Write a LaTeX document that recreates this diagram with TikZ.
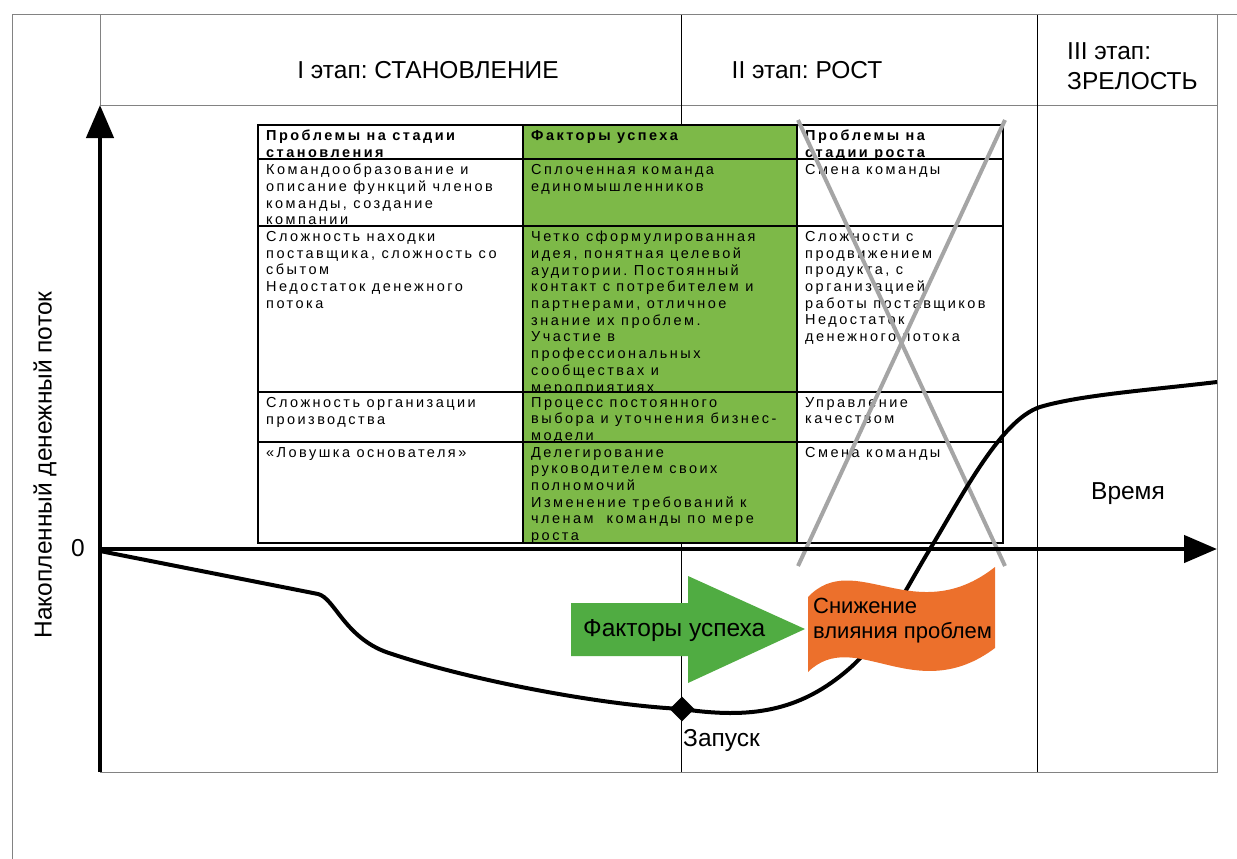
\documentclass[tikz,border=0pt]{standalone}
\usepackage{fontspec}
\setmainfont{Liberation Sans}
\newfontfamily\cellfont{Liberation Sans}[LetterSpace=17]
\usetikzlibrary{arrows.meta,shapes.geometric}
\definecolor{factorgreen}{RGB}{125,185,72}
\definecolor{arrowgreen}{RGB}{80,172,66}
\definecolor{flagorange}{RGB}{236,112,44}
\definecolor{crossgray}{RGB}{165,165,165}
\definecolor{framegray}{RGB}{130,130,130}
\frenchspacing

\begin{document}
\begin{tikzpicture}[
    x=1pt, y=-1pt,
    frame/.style={draw=framegray, line width=1pt},
    stage/.style={draw=black, line width=1pt},
    axis/.style={line width=4.5pt, -{Triangle[length=33pt,width=27pt]}},
    grid/.style={draw=black, line width=1.2pt},
    cell/.style={
        anchor=north west,
        inner sep=0pt,
        align=left,
        node font={\cellfont\fontsize{14.5pt}{16.7pt}\selectfont}},
    big/.style={
        inner sep=0pt,
        node font={\fontsize{24.5pt}{30pt}\selectfont}}]
    \useasboundingbox (0,0) rectangle (1237,859);

    \draw[frame] (1237,15) -- (12,15) -- (12,859);
    \draw[frame] (100,15) -- (100,105);
    \draw[frame] (100,105) -- (1217,105);
    \draw[frame] (1217,15) -- (1217,772) -- (100,772);
    \draw[stage] (681,15) -- (681,772);
    \draw[stage] (1037,15) -- (1037,772);

    \node[big, anchor=base] (stage1) at (428,78) {I этап: СТАНОВЛЕНИЕ};
    \node[big, anchor=base] (stage2) at (807,78) {II этап: РОСТ};
    \node[big, anchor=north west, align=left] (stage3) at (1067,42) {III этап:\\ЗРЕЛОСТЬ};

    \fill[white] (258,125) rectangle (1003,543);
    \fill[factorgreen] (523,125) rectangle (797,543);

    \node[cell, font=\bfseries] (c11) at (266,130) {Проблемы на стадии\\становления};
    \node[cell, font=\bfseries] (c12) at (531,130) {Факторы успеха};
    \node[cell, font=\bfseries] (c13) at (805,130) {Проблемы на\\стадии роста};

    \node[cell] (c21) at (266,164) {Командообразование и\\описание функций членов\\команды, создание\\компании};
    \node[cell] (c22) at (531,164) {Сплоченная команда\\единомышленников};
    \node[cell] (c23) at (805,164) {Смена команды};

    \node[cell] (c31) at (266,231) {Сложность находки\\поставщика, сложность со\\сбытом\\Недостаток денежного\\потока};
    \begin{scope}
        \clip (523,226) rectangle (797,392);
        \node[cell] (c32) at (531,231) {Четко сформулированная\\идея, понятная целевой\\аудитории. Постоянный\\контакт с потребителем и\\партнерами, отличное\\знание их проблем.\\Участие в\\профессиональных\\сообществах и\\мероприятиях};
    \end{scope}
    \node[cell] (c33) at (805,231) {Сложности с\\продвижением\\продукта, с\\организацией\\работы поставщиков\\Недостаток\\денежного потока};

    \node[cell] (c41) at (266,397) {Сложность организации\\производства};
    \begin{scope}
        \clip (523,392) rectangle (797,442);
        \node[cell] (c42) at (531,397) {Процесс постоянного\\выбора и уточнения бизнес-\\модели};
    \end{scope}
    \node[cell] (c43) at (805,397) {Управление\\качеством};

    \node[cell] (c51) at (266,447) {«Ловушка основателя»};
    \begin{scope}
        \clip (523,442) rectangle (797,543);
        \node[cell] (c52) at (531,447) {Делегирование\\руководителем своих\\полномочий\\Изменение требований к\\членам~ команды по мере\\роста};
    \end{scope}
    \node[cell] (c53) at (805,447) {Смена команды};

    \draw[grid] (523,125) -- (523,543);
    \draw[grid] (797,125) -- (797,543);
    \foreach \y in {159,226,392,442}
        \draw[grid] (258,\y) -- (1003,\y);
    \draw[grid, line width=1.8pt] (258,125) rectangle (1003,543);

    \draw[crossgray, line width=4pt] (798,120) -- (1005,566);
    \draw[crossgray, line width=4pt] (1005,120) -- (798,566);

    \coordinate (ybot) at (100,772);
    \coordinate (ytop) at (100,105);
    \coordinate (origin) at (100,549);
    \coordinate (xend) at (1217,549);
    \draw[axis] (ybot) -- (ytop);
    \draw[axis] (origin) -- (xend);

    \node[big, anchor=base] (zero) at (78,556) {0};
    \node[big, anchor=base] (time) at (1128,499) {Время};
    \node[big, rotate=90] (ylabel) at (45,465) {Накопленный денежный поток};

    \draw[line width=4pt, line join=round]
        (100,551) -- (318,594)
        .. controls (335,598) and (345,640) .. (392,654)
        .. controls (470,680) and (600,705) .. (682,709)
        .. controls (750,719) and (800,712) .. (850,668)
        .. controls (880,642) and (905,590) .. (930,549)
        .. controls (960,500) and (1000,420) .. (1040,407)
        .. controls (1080,395) and (1150,390) .. (1217,382);

    \fill[arrowgreen] (571,603) -- (688,603) -- (688,576) -- (805,629)
        -- (688,683) -- (688,656) -- (571,656) -- cycle;
    \node[big, anchor=west] (factors) at (583,631) {Факторы успеха};

    \fill[flagorange] (808,597) .. controls (855,548) and (915,630) .. (995,567)
        -- (995,648) .. controls (915,708) and (855,626) .. (808,672) -- cycle;
    \node[inner sep=0pt, anchor=north west, align=left,
        node font={\fontsize{22pt}{24.5pt}\selectfont}]
        (relief) at (813,598) {Снижение\\влияния проблем};

    \node[diamond, fill=black, minimum size=25pt, inner sep=0pt] (launch) at (682,709) {};
    \node[big, anchor=north west] (launchtext) at (683,729) {Запуск};
\end{tikzpicture}
\end{document}
